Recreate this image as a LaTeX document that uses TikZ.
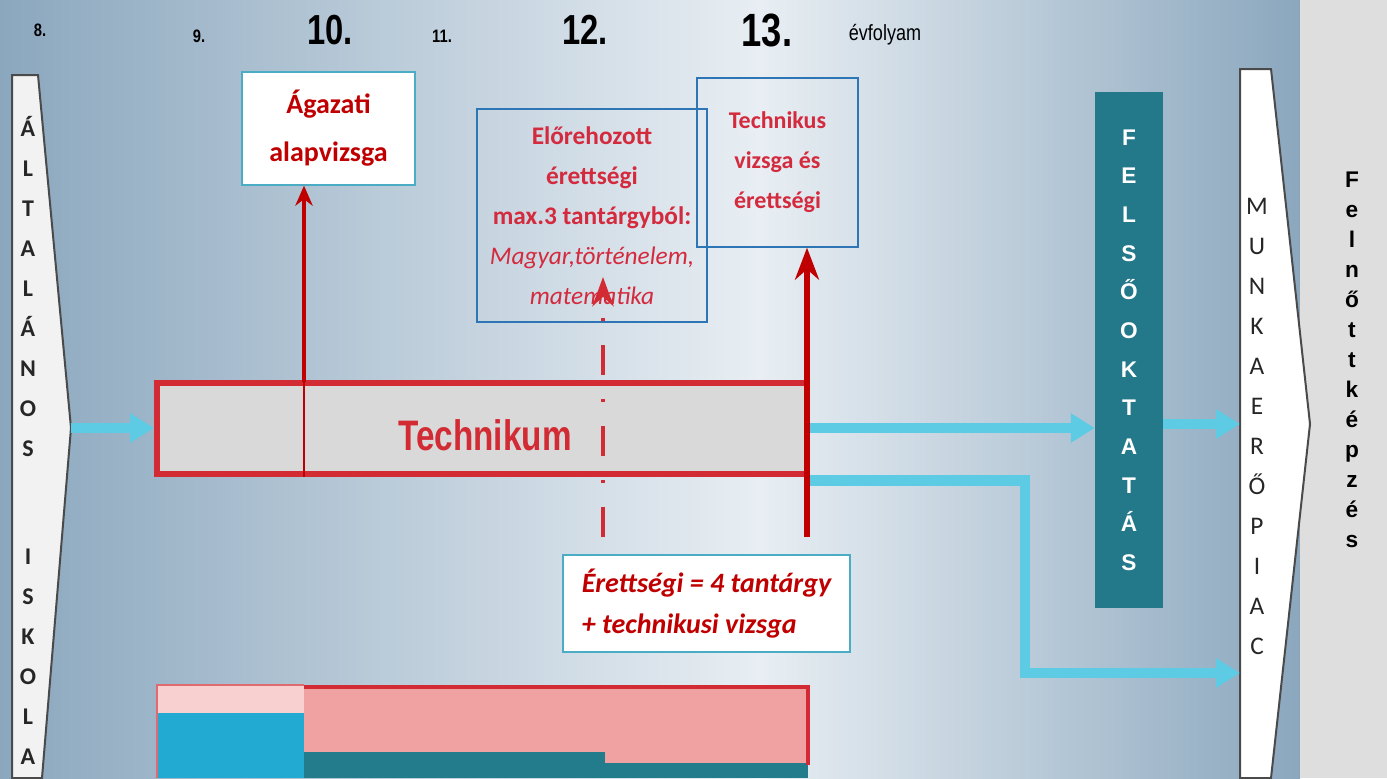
\documentclass[tikz,border=0pt]{standalone}
\usepackage{fontspec}
\setmainfont{Carlito}
\newfontfamily\arialfont{Liberation Sans}
\newfontfamily\narrowfont[FakeStretch=0.82]{Liberation Sans}
\newfontfamily\condfont[FakeStretch=0.78]{Liberation Sans}
\usetikzlibrary{arrows.meta}

\definecolor{bgdark}{HTML}{8BA7BE}
\definecolor{bglight}{HTML}{E8EEF3}
\definecolor{panelgray}{HTML}{DEDEDE}
\definecolor{darkred}{HTML}{C00000}
\definecolor{techred}{HTML}{D22B34}
\definecolor{examred}{HTML}{D42A3E}
\definecolor{flowcyan}{HTML}{5CCBE3}
\definecolor{tealbox}{HTML}{23788A}
\definecolor{boxblue}{HTML}{2E75B6}
\definecolor{boxframe}{HTML}{4BACC6}
\definecolor{barfill}{HTML}{D9D9D9}
\definecolor{lightpink}{HTML}{F9D0D0}
\definecolor{midpink}{HTML}{F0A2A2}
\definecolor{barcyan}{HTML}{22AAD2}
\definecolor{barteal}{HTML}{237C8C}
\definecolor{shapeedge}{HTML}{4A4A4A}
\definecolor{shapefill}{HTML}{F2F2F2}

\begin{document}
\begin{tikzpicture}[x=0.75pt,y=0.75pt,yscale=-1,xscale=1,
    flow/.style={draw=flowcyan, line width=8pt, -{Triangle[length=18pt,width=21pt]}},
    examtext/.style={text=examred, align=center, font=\bfseries\fontsize{18}{30}\selectfont},
    letterstack/.style={align=center, inner sep=0pt},
    yearsmall/.style={font=\narrowfont\bfseries\fontsize{13.5}{16}\selectfont},
    yearbig/.style={font=\condfont\bfseries\fontsize{#1}{#1}\selectfont},
  ]
    \useasboundingbox (0,0) rectangle (1387,778);

    % Background
    \shade[left color=bgdark, right color=bglight] (0,0) rectangle (760,778);
    \shade[left color=bglight, right color=bgdark] (760,0) rectangle (1300,778);
    \fill[panelgray] (1300,0) rectangle (1387,778);

    % Text Node
    \node[yearsmall] (g8) at (40,30) {8.};
    \node[yearsmall] (g9) at (199,36) {9.};
    \node[yearbig=31.5] (g10) at (330,30) {10.};
    \node[yearsmall] (g11) at (442,36) {11.};
    \node[yearbig=31.5] (g12) at (585,30) {12.};
    \node[yearbig=35] (g13) at (767,30) {13.};
    \node[font=\narrowfont\fontsize{16.5}{18}\selectfont] (evf) at (885,35) {évfolyam};

    % Left arrow shape
    \draw[draw=shapeedge, fill=shapefill, line width=1.5pt] (12,75) -- (38,75) -- (71,428) -- (42,778) -- (12,778) -- cycle;
    \coordinate (schooltip) at (71,428);
    \node[letterstack, text=black!85, font=\bfseries\fontsize{18}{30}\selectfont] (school) at (28,440)
      {Á\\L\\T\\A\\L\\Á\\N\\O\\S\\[51pt]I\\S\\K\\O\\L\\A};

    % Right arrow shape
    \draw[draw=shapeedge, fill=white, line width=1.5pt] (1240,69) -- (1271,69) -- (1310,424) -- (1271,778) -- (1240,778) -- cycle;
    \coordinate (labouredge) at (1240,424);
    \coordinate (labourlow) at (1240,673);
    \node[letterstack, text=black!85, font=\fontsize{19}{30}\selectfont] (labour) at (1257,426)
      {M\\U\\N\\K\\A\\E\\R\\Ő\\P\\I\\A\\C};

    % Text Node
    \node[letterstack, font=\arialfont\bfseries\fontsize{17}{22.5}\selectfont] (adult) at (1352,360)
      {F\\e\\l\\n\\ő\\t\\t\\k\\é\\p\\z\\é\\s};

    % Text Node
    \node[fill=tealbox, minimum width=51pt, minimum height=387pt, text=white, align=center,
      font=\arialfont\bfseries\fontsize{17}{29}\selectfont] (felso) at (1129,350)
      {F\\E\\L\\S\\Ő\\O\\K\\T\\A\\T\\Á\\S};

    % Technikum bar
    \node[draw=techred, fill=barfill, line width=4.5pt, minimum width=487.5pt, minimum height=68.25pt, inner sep=0pt] (tech) at (482,428) {};
    \node[text=techred, font=\condfont\bfseries\fontsize{32}{38}\selectfont] (techlabel) at (485,435) {Technikum};

    % Bottom bars
    \fill[lightpink] (157,685) rectangle (304,713);
    \fill[barcyan] (157,713) rectangle (304,778);
    \fill[midpink] (304,688) rectangle (605,752);
    \fill[barteal] (304,752) rectangle (605,778);
    \fill[midpink] (605,688) rectangle (808,763);
    \fill[barteal] (605,763) rectangle (808,778);
    \draw[techred!70, line width=0.8pt] (304,685) -- (157,685) -- (157,778);
    \draw[techred, line width=3pt] (304,687) -- (808,687) -- (808,765);

    % Text Node
    \node[draw=boxframe, fill=white, line width=1pt, minimum width=129.75pt, minimum height=84.75pt,
      text=darkred, align=center, font=\bfseries\fontsize{21}{36}\selectfont] (agazati) at (328.5,128.5)
      {Ágazati\\alapvizsga};
    \node[draw=boxblue, line width=1pt, minimum width=172.5pt, minimum height=159.75pt,
      text=examred, align=center, font=\fontsize{19}{30}\selectfont] (elore) at (592,215.5)
      {\textbf{Előrehozott}\\\textbf{érettségi}\\\textbf{max.3 tantárgyból:}\\\textit{Magyar,történelem,}\\\textit{matematika}};
    \node[draw=boxblue, line width=1pt, minimum width=120.75pt, minimum height=126.75pt, examtext] (technikus) at (777.5,162.5)
      {Technikus\\vizsga és\\érettségi};
    \node[draw=boxframe, fill=white, line width=1pt, minimum width=215.25pt, minimum height=72.75pt,
      text=darkred, align=left, font=\bfseries\itshape\fontsize{21}{31}\selectfont] (erett) at (706.5,603.5)
      {Érettségi = 4 tantárgy\\+ technikusi vizsga};

    % Connection
    \coordinate (y10) at (304,382);
    \draw[darkred, line width=0.8pt] (y10) -- (y10 |- tech.south);
    \draw[draw=darkred, line width=2.5pt, -{Stealth[length=15pt,width=13pt]}] (y10) -- (y10 |- agazati.south);
    % Connection
    \coordinate (y12) at (603,537);
    \coordinate (y12top) at (603,277);
    \draw[draw=techred, line width=3pt, dash pattern=on 22.5pt off 18pt on 2.25pt off 18pt,
      -{Stealth[length=22pt,width=16pt]}] (y12) -- (y12top);
    % Connection
    \coordinate (y13) at (807,537);
    \draw[draw=darkred, line width=4.5pt, -{Stealth[length=24pt,width=18pt]}] (y13) -- (y13 |- technikus.south);

    % Connection
    \draw[flow] (schooltip) -- (tech.west);
    \draw[flow] (tech.east) -- (tech.east -| felso.west);
    \draw[flow] (felso.east |- labouredge) -- (labouredge);
    \draw[flow] ([yshift=3pt]tech.south east) -- ++(215,0) |- (labourlow);
\end{tikzpicture}
\end{document}
